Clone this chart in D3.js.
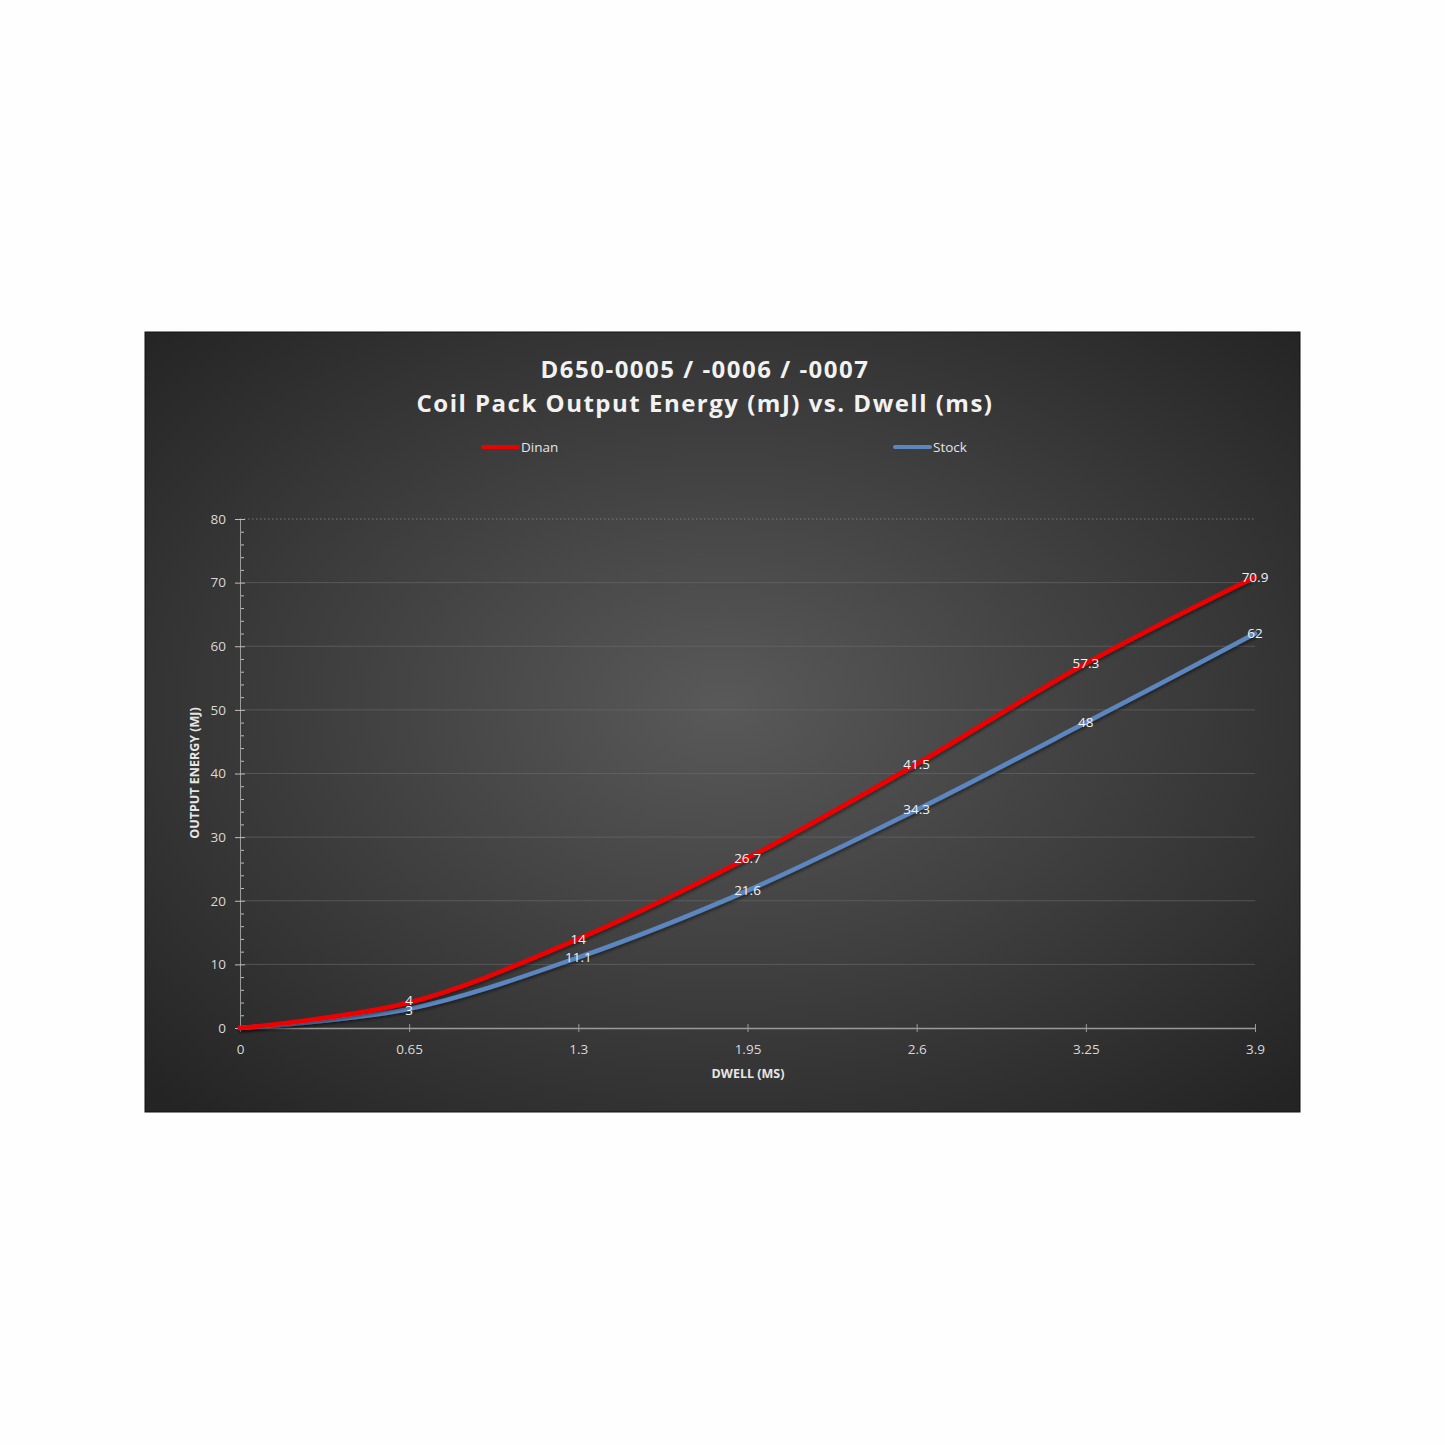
<!DOCTYPE html>
<html>
<head>
<meta charset="utf-8">
<script src="https://cdn.jsdelivr.net/npm/d3@7"></script>
<style>
  body { margin: 0; background: #fefefe; }
</style>
</head>
<body>
<div id="chart"></div>
<script>
// data
const dwell = [0, 0.65, 1.3, 1.95, 2.6, 3.25, 3.9]
const dinan = [0, 4, 14, 26.7, 41.5, 57.3, 70.9]
const stock = [0, 3, 11.1, 21.6, 34.3, 48, 62]
const xTicks = [0, 0.65, 1.3, 1.95, 2.6, 3.25, 3.9]
const yTicks = [0, 10, 20, 30, 40, 50, 60, 70, 80]
const seriesNames = ["Dinan", "Stock"]
const seriesColors = ["#ee0000", "#5b86c0"]
const titleLines = ["D650-0005 / -0006 / -0007", "Coil Pack Output Energy (mJ) vs. Dwell (ms)"]

const W = 1445, H = 1445
const frame = {x: 145, y: 332, w: 1155, h: 780}
const plot = {l: 240, r: 1255, t: 519, b: 1028}
const font = "'Open Sans', 'DejaVu Sans', sans-serif"

let svg = d3.select("#chart").append("svg")
    .attr("width", W)
    .attr("height", H);

//background gradient
let defs = svg.append("defs");
let grad = defs.append("radialGradient")
    .attr("id", "bg")
    .attr("cx", "50%").attr("cy", "48%").attr("r", "70%");
grad.append("stop").attr("offset", "0%").attr("stop-color", "#595959");
grad.append("stop").attr("offset", "100%").attr("stop-color", "#242424");

let shadow = defs.append("filter").attr("id", "sh")
    .attr("x", "-5%").attr("y", "-5%").attr("width", "110%").attr("height", "110%");
shadow.append("feDropShadow")
    .attr("dx", 1).attr("dy", 2).attr("stdDeviation", 1.5)
    .attr("flood-color", "#000").attr("flood-opacity", 0.45);

svg.append("rect")
    .attr("x", frame.x).attr("y", frame.y)
    .attr("width", frame.w).attr("height", frame.h)
    .attr("fill", "url(#bg)")
    .attr("stroke", "#111")
    .attr("stroke-width", 1);

//title
titleLines.forEach(function(t, i) {
    svg.append("text")
        .attr("x", 705).attr("y", 372 + i * 34)
        .attr("text-anchor", "middle")
        .attr("dominant-baseline", "middle")
        .attr("fill", "#f2f2f2")
        .attr("font-family", font)
        .attr("font-weight", 700)
        .attr("font-size", 24)
        .attr("letter-spacing", 1.5)
        .text(t);
});

//legend
const legendX = [483, 895];
for (let i = 0; i < seriesNames.length; i++) {
    svg.append("line")
        .attr("x1", legendX[i]).attr("x2", legendX[i] + 35)
        .attr("y1", 447).attr("y2", 447)
        .attr("stroke", seriesColors[i])
        .attr("stroke-width", 4)
        .attr("stroke-linecap", "round");
    svg.append("text")
        .attr("x", legendX[i] + 38).attr("y", 448)
        .attr("dominant-baseline", "middle")
        .attr("fill", "#e6e6e6")
        .attr("font-family", font)
        .attr("font-size", 13.5)
        .text(seriesNames[i]);
}

//scales
let scaleX = d3.scaleLinear().domain([0, 3.9]).range([plot.l, plot.r]);
let scaleY = d3.scaleLinear().domain([0, 80]).range([plot.b, plot.t]);

//gridlines
let grid = svg.append("g");
grid.selectAll("line")
    .data(yTicks.filter(d => d > 0))
    .join("line")
    .attr("x1", plot.l).attr("x2", plot.r)
    .attr("y1", d => scaleY(d)).attr("y2", d => scaleY(d))
    .attr("stroke", d => d === 80 ? "#8a8a8a" : "#6a6a6a")
    .attr("stroke-opacity", d => d === 80 ? 0.8 : 0.6)
    .attr("stroke-dasharray", d => d === 80 ? "1.5,2.5" : null)
    .attr("stroke-width", 1);

//y axis with minor ticks
let axisYMinor = d3.axisRight(scaleY)
    .tickValues(d3.range(0, 81, 2).filter(v => v % 10 !== 0))
    .tickSize(4)
    .tickFormat("");
let gMinor = svg.append("g")
    .attr("transform", `translate(${plot.l},0)`)
    .call(axisYMinor);
gMinor.select(".domain").remove();
gMinor.selectAll("line").attr("stroke", "#bdbdbd");

let axisY = d3.axisLeft(scaleY)
    .tickValues(yTicks)
    .tickSizeInner(5)
    .tickSizeOuter(0)
    .tickPadding(9);
let gY = svg.append("g")
    .attr("transform", `translate(${plot.l},0)`)
    .call(axisY);
gY.select(".domain").attr("stroke", "#9a9a9a");
gY.selectAll(".tick line").attr("x2", 5).attr("x1", -5).attr("stroke", "#bdbdbd");
gY.selectAll("text")
    .attr("fill", "#d9d9d9")
    .attr("font-family", font)
    .attr("font-size", 13.5);

//x axis
let axisX = d3.axisBottom(scaleX)
    .tickValues(xTicks)
    .tickSizeInner(4)
    .tickSizeOuter(0)
    .tickPadding(12)
    .tickFormat(d => String(d));
let gX = svg.append("g")
    .attr("transform", `translate(0,${plot.b})`)
    .call(axisX);
gX.select(".domain").attr("stroke", "#9a9a9a").attr("stroke-width", 1.5);
gX.selectAll(".tick line").attr("y1", -4).attr("y2", 4).attr("stroke", "#9a9a9a");
gX.selectAll("text")
    .attr("fill", "#d9d9d9")
    .attr("font-family", font)
    .attr("font-size", 13.5);

//axis titles
svg.append("text")
    .attr("x", 748).attr("y", 1075)
    .attr("text-anchor", "middle")
    .attr("dominant-baseline", "middle")
    .attr("fill", "#e6e6e6")
    .attr("font-family", font)
    .attr("font-weight", 700)
    .attr("font-size", 12.5)
    .text("DWELL (MS)");
svg.append("text")
    .attr("transform", "translate(196,773) rotate(-90)")
    .attr("text-anchor", "middle")
    .attr("dominant-baseline", "middle")
    .attr("fill", "#e6e6e6")
    .attr("font-family", font)
    .attr("font-weight", 700)
    .attr("font-size", 12.5)
    .text("OUTPUT ENERGY (MJ)");

//lines
const allSeries = [dinan, stock];
let line = d3.line()
    .x((d, i) => scaleX(dwell[i]))
    .y(d => scaleY(d))
    .curve(d3.curveCatmullRom.alpha(0.5));

for (let s = allSeries.length - 1; s >= 0; s--) {
    svg.append("path")
        .datum(allSeries[s])
        .attr("fill", "none")
        .attr("stroke", seriesColors[s])
        .attr("stroke-width", 4.5)
        .attr("stroke-linecap", "round")
        .attr("filter", "url(#sh)")
        .attr("d", line);
}

//data labels
for (let s = 0; s < allSeries.length; s++) {
    svg.append("g").selectAll("text")
        .data(allSeries[s].map((v, i) => ({x: dwell[i], y: v})).filter(d => d.x > 0))
        .join("text")
        .attr("x", d => scaleX(d.x))
        .attr("y", d => scaleY(d.y) + (d.x === 0.65 ? (s === 0 ? -1 : 2) : 1))
        .attr("text-anchor", "middle")
        .attr("dominant-baseline", "middle")
        .attr("fill", "#f2f2f2")
        .attr("font-family", font)
        .attr("font-size", 13.5)
        .text(d => d.y);
}
</script>
</body>
</html>
